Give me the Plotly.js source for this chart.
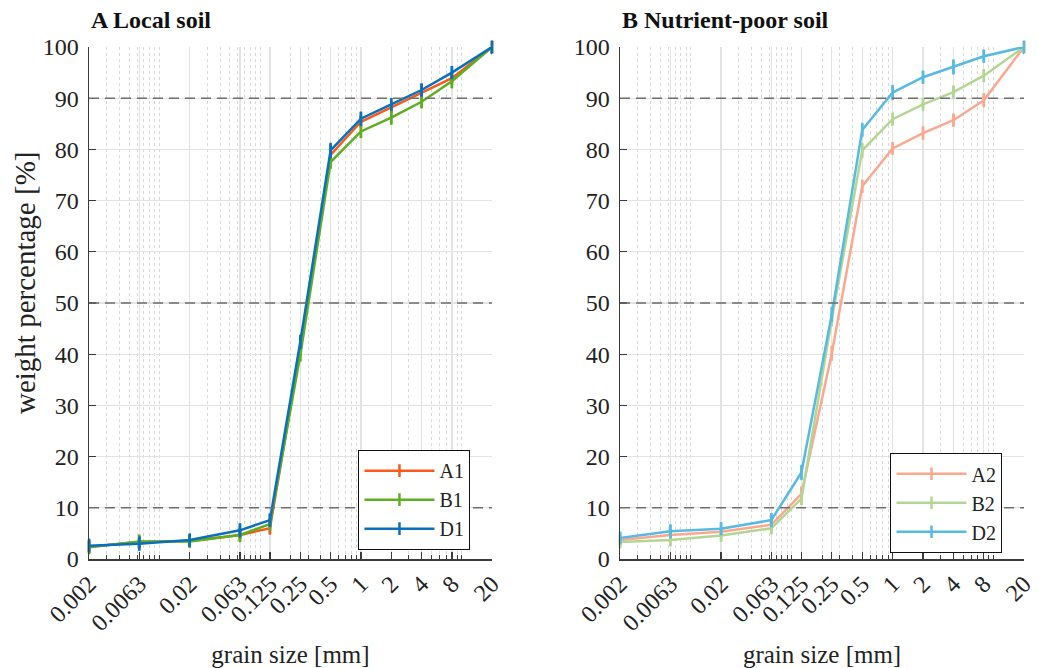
<!DOCTYPE html>
<html>
<head>
<meta charset="utf-8">
<script src="https://cdn.plot.ly/plotly-3.0.1.min.js"></script>
<style>
  html, body { margin: 0; padding: 0; background: #fff; }
  #chart { width: 1039px; height: 668px; }
  #chart svg text { font-family: 'Liberation Serif', serif !important; }
</style>
</head>
<body>
<div id="chart"></div>
<script>
// Sieve sizes [mm] and tick labels on the grain-size axis
const grainSize = [0.002, 0.0063, 0.02, 0.063, 0.125, 0.25, 0.5, 1, 2, 4, 8, 20];
const grainLabels = ['0.002', '0.0063', '0.02', '0.063', '0.125', '0.25', '0.5', '1', '2', '4', '8', '20'];

// Local soil: cumulative weight percentage passing, with spread
const A1 = [2.4, 3.3, 3.5, 4.7, 6.0, 41.0, 78.9, 85.4, 88.2, 91.1, 93.9, 100];
const A1err = [1.0, 1.0, 0.8, 0.9, 1.2, 1.0, 1.0, 1.0, 1.0, 1.0, 1.0, 1.2];
const B1 = [2.3, 3.4, 3.4, 4.7, 6.8, 39.8, 77.5, 83.5, 86.2, 89.3, 93.3, 100];
const B1err = [1.4, 1.4, 1.0, 1.4, 1.3, 1.2, 1.3, 1.3, 1.4, 1.3, 1.4, 1.3];
const D1 = [2.6, 3.0, 3.7, 5.6, 7.6, 42.4, 79.8, 86.0, 88.8, 91.6, 95.0, 100];
const D1err = [1.4, 1.4, 1.3, 1.4, 1.3, 1.4, 1.5, 1.4, 1.2, 1.3, 1.3, 1.4];

// Nutrient-poor soil
const A2 = [3.7, 4.7, 5.3, 6.7, 12.7, 40.2, 72.8, 80.2, 83.2, 85.7, 89.6, 100];
const A2err = [0.9, 0.9, 0.8, 0.8, 1.5, 1.5, 1.3, 1.2, 1.3, 1.3, 1.4, 1.2];
const B2 = [3.3, 3.7, 4.6, 6.0, 11.8, 46.8, 79.8, 85.9, 88.8, 91.2, 94.4, 100];
const B2err = [1.0, 1.0, 1.2, 1.1, 1.3, 1.4, 1.5, 1.3, 1.2, 1.3, 1.3, 1.2];
const D2 = [4.1, 5.4, 5.9, 7.6, 16.9, 47.8, 83.8, 91.1, 94.1, 96.1, 98.2, 100];
const D2err = [1.2, 1.4, 1.3, 1.4, 1.5, 1.5, 1.4, 1.5, 1.3, 1.5, 1.3, 1.4];

// Reference levels (d10, d50, d90)
const refLevels = [10, 50, 90];
const yTicks = [0, 10, 20, 30, 40, 50, 60, 70, 80, 90, 100];

const FONT = 'Liberation Serif, serif';
const TXT = '#222';

function series(name, y, err, color, xa, ya, leg) {
  return {
    type: 'scatter', mode: 'lines+markers', name: name,
    x: grainSize, y: y,
    xaxis: xa, yaxis: ya, legend: leg,
    line: { color: color, width: 2.5 },
    marker: { symbol: 'line-ns', size: 9, line: { color: color, width: 2.5 }, color: color },
    error_y: { type: 'data', array: err, visible: true, color: color, thickness: 2.5, width: 0 },
    cliponaxis: false
  };
}

const data = [
  series('A1', A1, A1err, '#F75A1B', 'x', 'y', 'legend'),
  series('B1', B1, B1err, '#5DAE20', 'x', 'y', 'legend'),
  series('D1', D1, D1err, '#0A70BC', 'x', 'y', 'legend'),
  series('A2', A2, A2err, '#FDA78E', 'x2', 'y2', 'legend2'),
  series('B2', B2, B2err, '#B3D793', 'x2', 'y2', 'legend2'),
  series('D2', D2, D2err, '#58BAE2', 'x2', 'y2', 'legend2')
];

// Minor log grid: 1..9 x 10^k inside the plotted range
const minorVals = [];
for (let k = -3; k <= 1; k++) {
  for (let m = 1; m <= 9; m++) {
    const v = m * Math.pow(10, k);
    if (v >= 0.002 - 1e-12 && v <= 20 + 1e-12) minorVals.push(+v.toPrecision(3));
  }
}

function xAxis(domain, anchor) {
  return {
    type: 'log', domain: domain, anchor: anchor,
    range: [Math.log10(0.002), Math.log10(20)],
    tickmode: 'array', tickvals: grainSize, ticktext: grainLabels,
    tickangle: -45, ticks: 'inside', ticklen: 7, tickwidth: 1.3, tickcolor: '#3a3a3a',
    showline: true, linecolor: '#3a3a3a', linewidth: 1.5,
    showgrid: true, gridcolor: '#e3e3e3', gridwidth: 1.3,
    minor: {
      tickmode: 'array', tickvals: minorVals,
      ticks: 'inside', ticklen: 4, tickwidth: 1, tickcolor: '#3a3a3a',
      showgrid: true, gridcolor: '#d9d9d9', griddash: 'dot', gridwidth: 1
    },
    zeroline: false, mirror: false,
    tickfont: { size: 24, color: TXT },
    title: { text: 'grain size [mm]', font: { size: 25, color: TXT }, standoff: 12 },
    automargin: false
  };
}

function yAxis(anchor) {
  return {
    anchor: anchor, domain: [0, 1], range: [0, 100],
    tickmode: 'array', tickvals: yTicks,
    ticks: 'inside', ticklen: 7, tickwidth: 1.3, tickcolor: '#3a3a3a',
    showline: true, linecolor: '#3a3a3a', linewidth: 1.5,
    showgrid: true, gridcolor: '#e3e3e3', gridwidth: 1.3,
    zeroline: false,
    tickfont: { size: 24, color: TXT },
    ticklabelstandoff: 4,
    automargin: false
  };
}

const shapes = [];
['x', 'x2'].forEach(function (xa, i) {
  const ya = i === 0 ? 'y' : 'y2';
  refLevels.forEach(function (lv) {
    shapes.push({
      type: 'line', xref: xa + ' domain', yref: ya,
      x0: 0, x1: 1, y0: lv, y1: lv,
      line: { color: '#6e6e6e', width: 1.6, dash: '10px,6px' },
      layer: 'above'
    });
  });
});

function legendBox(x, y) {
  return {
    x: x, y: y, xanchor: 'left', yanchor: 'top', xref: 'paper', yref: 'paper',
    bgcolor: '#ffffff', bordercolor: '#111', borderwidth: 1.2,
    font: { size: 20, color: TXT },
    itemwidth: 70, tracegroupgap: 0
  };
}

const layout = {
  width: 1039, height: 668,
  margin: { l: 89, r: 15, t: 47, b: 109 },
  paper_bgcolor: '#ffffff', plot_bgcolor: '#ffffff',
  font: { family: FONT, color: TXT },
  showlegend: true,
  xaxis: xAxis([0, 0.431], 'y'),
  yaxis: yAxis('x'),
  xaxis2: xAxis([0.568, 1.0], 'y2'),
  yaxis2: yAxis('x2'),
  legend: legendBox(0.288, 0.213),
  legend2: legendBox(0.857, 0.207),
  shapes: shapes,
  annotations: [
    { text: '<b>A Local soil</b>', xref: 'paper', yref: 'paper', x: 0, y: 1.052,
      xanchor: 'left', yanchor: 'middle', showarrow: false,
      font: { size: 24, color: '#111' } },
    { text: '<b>B Nutrient-poor soil</b>', xref: 'x2 domain', yref: 'paper', x: 0, y: 1.052,
      xanchor: 'left', yanchor: 'middle', showarrow: false,
      font: { size: 24, color: '#111' } },
    // y-axis label
    { text: 'weight percentage [%]', xref: 'paper', yref: 'paper', x: -0.069, y: 0.54,
      xanchor: 'center', yanchor: 'middle', textangle: -90, showarrow: false,
      font: { size: 29, color: TXT } }
  ]
};

Plotly.newPlot('chart', data, layout, { displayModeBar: false, staticPlot: true });
</script>
</body>
</html>
